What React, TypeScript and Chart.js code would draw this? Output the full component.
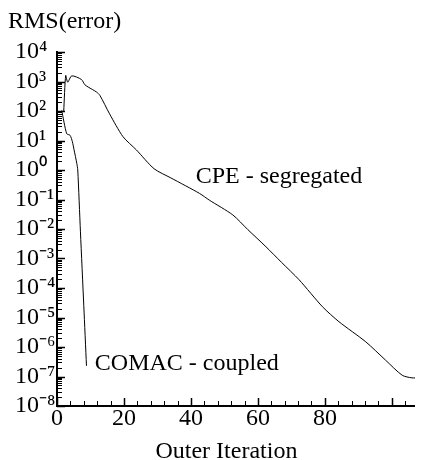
import React, { useEffect, useRef } from "react";
import { Chart, registerables } from "chart.js";

Chart.register(...registerables);

// CPE (segregated solver) residual history
const cpeIter = [
  2.0, 2.6, 3.2, 4.4, 7.3, 8.3, 9.3, 11.8, 12.8, 15.7, 19.7, 23.7, 29.0, 34.0,
  42.6, 45.5, 52.5, 57.0, 62.4, 67.0, 72.3, 79.3, 84.2, 92.2, 98.1, 103.1,
  106.0, 108.0,
];
const cpeRms = [
  95, 1600, 950, 1550, 1170, 780, 650, 440, 340, 80, 13.5, 4.8, 1.1, 0.54,
  0.16, 0.095, 0.03, 0.0095, 0.0025, 7.5e-4, 1.9e-4, 2.3e-5, 7.2e-6, 1.5e-6,
  3.6e-7, 1.1e-7, 9e-8, 9.1e-8,
];

// COMAC (coupled solver) residual history
const comacIter = [1.4, 2.9, 3.9, 4.6, 5.1, 5.9, 6.2, 7.0, 8.0, 8.8];
const comacRms = [105, 17, 15, 9, 4.8, 1.7, 1.0, 8e-3, 2.5e-5, 2.3e-7];

// Axis ticks
const xMajorTicks = [0, 20, 40, 60, 80, 100];
const xMinorStep = 4;
const xMax = 109;
const yDecades = [-8, -7, -6, -5, -4, -3, -2, -1, 0, 1, 2, 3, 4];

// Texts: y-axis heading, x-axis title, curve annotations (anchored in data units)
const yHeading = "RMS(error)";
const xTitle = { text: "Outer Iteration", x: 50.6 };
const cpeLabel = { text: "CPE - segregated", x: 41.4, y: 0.36 };
const comacLabel = { text: "COMAC - coupled", x: 11.3, y: 1.66e-7 };

const FONT_FAMILY = '"Liberation Serif", "Times New Roman", serif';
const SUP: Record<string, string> = {
  "-": "\u207B",
  "0": "\u2070",
  "1": "\u00B9",
  "2": "\u00B2",
  "3": "\u00B3",
  "4": "\u2074",
  "5": "\u2075",
  "6": "\u2076",
  "7": "\u2077",
  "8": "\u2078",
  "9": "\u2079",
};

const toSup = (n: number) =>
  String(n)
    .split("")
    .map((c) => SUP[c] ?? c)
    .join("");

const decadeOf = (v: number): number | null => {
  const e = Math.round(Math.log10(v));
  return Math.abs(Math.log10(v) - e) < 1e-6 ? e : null;
};

const pairs = (xs: number[], ys: number[]) => xs.map((x, i) => ({ x, y: ys[i] }));

// Inward tick marks, curve labels and axis headings
const decorPlugin = {
  id: "decor",
  afterDraw(chart: any) {
    const { ctx, chartArea } = chart;
    const xs = chart.scales.x;
    const ys = chart.scales.y;
    ctx.save();
    ctx.strokeStyle = "#000";

    // y axis: decade and sub-decade ticks pointing into the plot
    const yTop = Math.pow(10, yDecades[yDecades.length - 1]);
    for (const d of yDecades) {
      for (let m = 1; m <= 9; m++) {
        const v = m * Math.pow(10, d);
        if (v > yTop * 1.0000001) break;
        const p = Math.round(ys.getPixelForValue(v)) + 0.5;
        const major = m === 1;
        ctx.lineWidth = major ? 1.5 : 1;
        ctx.beginPath();
        ctx.moveTo(chartArea.left, p);
        ctx.lineTo(chartArea.left + (major ? 8 : 5), p);
        ctx.stroke();
      }
    }

    // x axis: major and minor ticks pointing up
    for (let v = 0; v <= xMax; v += xMinorStep) {
      const p = Math.round(xs.getPixelForValue(v)) + 0.5;
      const major = xMajorTicks.includes(v);
      ctx.lineWidth = major ? 1.5 : 1;
      ctx.beginPath();
      ctx.moveTo(p, chartArea.bottom);
      ctx.lineTo(p, chartArea.bottom - (major ? 8 : 5));
      ctx.stroke();
    }

    ctx.fillStyle = "#000";
    ctx.font = `24px ${FONT_FAMILY}`;
    ctx.textBaseline = "alphabetic";
    ctx.textAlign = "left";
    for (const lab of [cpeLabel, comacLabel]) {
      ctx.fillText(lab.text, xs.getPixelForValue(lab.x), ys.getPixelForValue(lab.y));
    }
    ctx.fillText(yHeading, 0, 20);
    ctx.textAlign = "center";
    ctx.fillText(xTitle.text, xs.getPixelForValue(xTitle.x), chart.height - 2);
    ctx.restore();
  },
};

export default function App() {
  const canvasRef = useRef<HTMLCanvasElement | null>(null);

  useEffect(() => {
    if (!canvasRef.current) return;
    const lineStyle = {
      borderColor: "#000",
      borderWidth: 1,
      pointRadius: 0,
      tension: 0.25,
      fill: false,
    };
    const chart = new Chart(canvasRef.current, {
      type: "line",
      data: {
        datasets: [
          { label: "CPE - segregated", data: pairs(cpeIter, cpeRms), ...lineStyle },
          { label: "COMAC - coupled", data: pairs(comacIter, comacRms), ...lineStyle },
        ],
      },
      options: {
        responsive: false,
        animation: false,
        layout: { padding: { left: 7, right: 0, top: 44, bottom: 0 } },
        plugins: {
          legend: { display: false },
          tooltip: { enabled: false },
          title: { display: false },
        },
        scales: {
          x: {
            type: "linear",
            min: 0,
            max: xMax,
            grid: { display: false, drawTicks: false },
            border: { display: true, color: "#000", width: 2 },
            ticks: {
              stepSize: 20,
              autoSkip: false,
              maxRotation: 0,
              padding: 1,
              color: "#000",
              font: { family: FONT_FAMILY, size: 24, lineHeight: 1 },
              callback: (v: any) => (xMajorTicks.includes(Number(v)) ? String(v) : ""),
            },
            afterFit: (scale: any) => {
              scale.height = 54;
            },
          },
          y: {
            type: "logarithmic",
            min: Math.pow(10, yDecades[0]),
            max: Math.pow(10, yDecades[yDecades.length - 1]),
            grid: { display: false, drawTicks: false },
            border: { display: true, color: "#000", width: 2 },
            ticks: {
              autoSkip: false,
              crossAlign: "far",
              color: "#000",
              font: { family: FONT_FAMILY, size: 24 },
              callback: (v: any) => {
                const e = decadeOf(Number(v));
                return e !== null && yDecades.includes(e) ? "10" + toSup(e) : "";
              },
            },
            afterFit: (scale: any) => {
              scale.width = 42;
            },
          },
        },
      },
      plugins: [decorPlugin],
    } as any);
    return () => chart.destroy();
  }, []);

  return (
    <canvas
      ref={canvasRef}
      width={415}
      height={452}
      style={{ display: "block", width: 415, height: 452 }}
    />
  );
}
